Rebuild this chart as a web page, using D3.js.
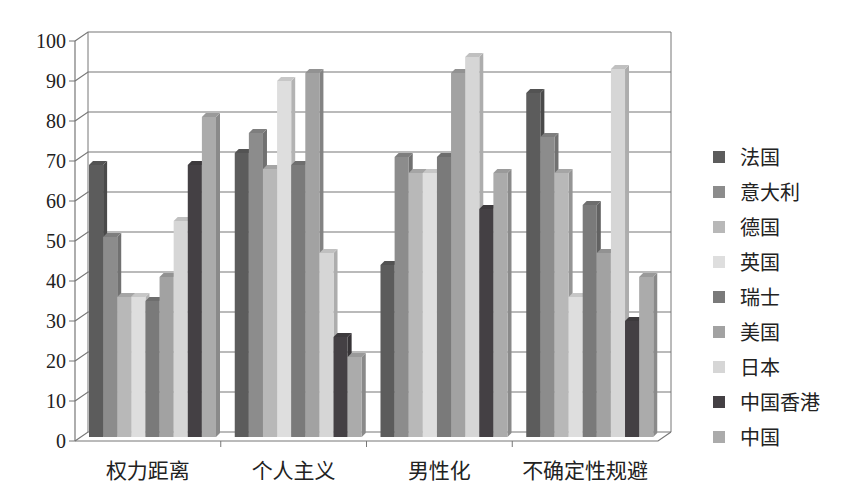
<!DOCTYPE html><html><head><meta charset="utf-8"><script src="https://cdn.jsdelivr.net/npm/d3@7"></script>
<style>body{margin:0;background:#fff}</style></head><body><svg id="c" width="848" height="500"></svg>
<script>
const categories=["权力距离","个人主义","男性化","不确定性规避"];
const countries=["法国","意大利","德国","英国","瑞士","美国","日本","中国香港","中国"];
const colors=["#5c5c5c","#8c8c8c","#b8b8b8","#dedede","#7a7a7a","#a2a2a2","#d6d6d6","#444044","#ababab"];
const values=[
 [68,71,43,86],[50,76,70,75],[35,67,66,66],[35,89,66,35],[34,68,70,58],
 [40,91,91,46],[54,46,95,92],[68,25,57,29],[80,20,66,40]];
const yTicks=[0,10,20,30,40,50,60,70,80,90,100];
const svg=d3.select("#c");
const fx0=75,fx1=658,fy0=441,dx=13,dy=-9;
const x=d3.scaleBand().domain(categories).range([fx0,fx1]);
const y=d3.scaleLinear().domain([0,100]).range([fy0,fy0-400]);
const serif="'Liberation Serif','Noto Sans CJK SC',serif";
yTicks.forEach(t=>{
 svg.append("path").attr("d",`M${fx0},${y(t)}L${fx0+dx},${y(t)+dy}H${fx1+dx}`).attr("fill","none").attr("stroke","#777").attr("stroke-width",1.2);
 svg.append("line").attr("x1",fx0-6).attr("x2",fx0).attr("y1",y(t)).attr("y2",y(t)).attr("stroke","#777");
 svg.append("text").attr("x",fx0-9).attr("y",y(t)+7).attr("text-anchor","end").attr("font-family",serif).attr("font-size",20).attr("fill","#222").text(t);
});
svg.append("line").attr("x1",fx0).attr("x2",fx0).attr("y1",y(100)).attr("y2",fy0).attr("stroke","#777").attr("stroke-width",1.2);
svg.append("line").attr("x1",fx0+dx).attr("x2",fx0+dx).attr("y1",y(100)+dy).attr("y2",fy0+dy).attr("stroke","#777");
svg.append("path").attr("d",`M${fx0},${fy0}H${fx1}L${fx1+dx},${fy0+dy}`).attr("fill","none").attr("stroke","#777").attr("stroke-width",1.2);
svg.append("line").attr("x1",fx1+dx).attr("x2",fx1+dx).attr("y1",y(100)+dy).attr("y2",fy0+dy).attr("stroke","#777");
categories.forEach((c,i)=>{
 if(i>0) svg.append("line").attr("x1",x(c)).attr("x2",x(c)).attr("y1",fy0).attr("y2",fy0+6).attr("stroke","#777");
 svg.append("text").attr("x",x(c)+x.bandwidth()/2).attr("y",478).attr("text-anchor","middle").attr("font-family",serif).attr("font-size",21).attr("fill","#222").text(c);
});
const inner=d3.scaleBand().domain(countries).range([14,141]);
const bw=inner.bandwidth(), bd=4, base=fy0-4;
const yb=v=>base-(fy0-y(v));
countries.forEach((n,k)=>{
 const col=d3.color(colors[k]);
 categories.forEach((c,i)=>{
  const v=values[k][i], bx=x(c)+inner(n), top=yb(v);
  svg.append("path").attr("d",`M${bx+bw},${top}l${bd},${-bd}V${base-bd}l${-bd},${bd}Z`).attr("fill",col.darker(0.6));
  svg.append("path").attr("d",`M${bx},${top}l${bd},${-bd}h${bw}l${-bd},${bd}Z`).attr("fill",col.darker(0.3));
  svg.append("rect").attr("x",bx).attr("y",top).attr("width",bw).attr("height",base-top).attr("fill",colors[k]);
 });
});
countries.forEach((n,k)=>{
 const ly=165+k*35;
 svg.append("rect").attr("x",713).attr("y",ly-14).attr("width",12).attr("height",12).attr("fill",colors[k]);
 svg.append("text").attr("x",740).attr("y",ly).attr("font-family",serif).attr("font-size",20).attr("fill","#222").text(n);
});
</script></body></html>
